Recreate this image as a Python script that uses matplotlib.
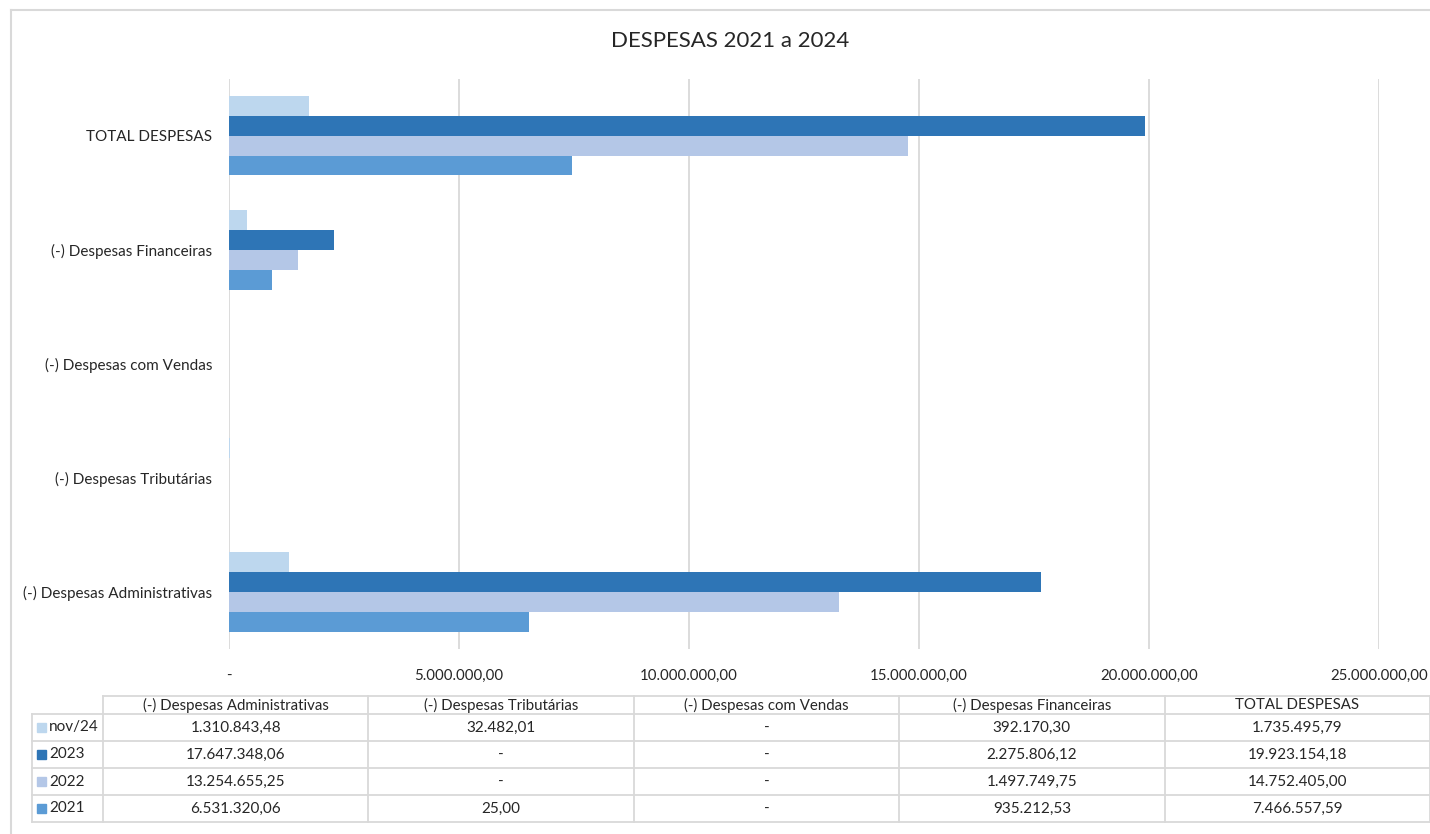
import numpy as np
import matplotlib
matplotlib.use('Agg')
import matplotlib.pyplot as plt
from matplotlib.patches import Rectangle

plt.rcParams['font.family'] = ['Lato', 'DejaVu Sans']

categories = ['(-) Despesas Administrativas', '(-) Despesas Tributárias',
              '(-) Despesas com Vendas', '(-) Despesas Financeiras', 'TOTAL DESPESAS']
series = ['nov/24', '2023', '2022', '2021']
nov24 = [1310843.48, 32482.01, 0, 392170.30, 1735495.79]
y2023 = [17647348.06, 0, 0, 2275806.12, 19923154.18]
y2022 = [13254655.25, 0, 0, 1497749.75, 14752405.00]
y2021 = [6531320.06, 25.00, 0, 935212.53, 7466557.59]
values = [nov24, y2023, y2022, y2021]
colors = ['#BDD7EE', '#2E75B6', '#B4C7E7', '#5B9BD5']
xticks = [0, 5e6, 10e6, 15e6, 20e6, 25e6]

W, H = 1430, 834
grid_c = '#D9D9D9'
txt_c = '#262626'


def fmt(v):
    if v == 0:
        return '-'
    s = f"{v:,.2f}"
    return s.replace(',', '#').replace('.', ',').replace('#', '.')


fig = plt.figure(figsize=(W / 100, H / 100), dpi=100)

# main bar axes, placed in pixel terms
x0, x1 = 229, 1379
ytop, ybot = 78.5, 649
ax = fig.add_axes([x0 / W, 1 - ybot / H, (x1 - x0) / W, (ybot - ytop) / H])

ypos = np.arange(len(categories))
h = 0.175
offsets = [1.5, 0.5, -0.5, -1.5]
for vals, col, off, name in zip(values, colors, offsets, series):
    ax.barh(ypos + off * h, vals, height=h, color=col, label=name, zorder=3)

ax.set_xlim(0, 25e6)
ax.set_ylim(-0.5, len(categories) - 0.5)
ax.set_xticks(xticks)
ax.set_xticklabels([fmt(v) for v in xticks], fontsize=10.8, color=txt_c)
ax.set_yticks(ypos)
ax.set_yticklabels(categories, fontsize=11, color=txt_c)
ax.tick_params(axis='both', length=0)
ax.tick_params(axis='x', pad=14)
ax.tick_params(axis='y', pad=12)
ax.grid(axis='x', color=grid_c, linewidth=1.3, zorder=0)
for s in ax.spines.values():
    s.set_visible(False)

fig.text(730 / W, 1 - 41 / H, 'DESPESAS 2021 a 2024', ha='center', va='center',
         fontsize=16, color=txt_c)

# overlay axes in pixel coordinates for the data table and frame
tab = fig.add_axes([0, 0, 1, 1])
tab.set_xlim(0, W)
tab.set_ylim(H, 0)
tab.axis('off')

# outer chart frame
tab.plot([11, 11], [10, H], color=grid_c, lw=1.5)
tab.plot([11, W], [10, 10], color=grid_c, lw=1.5)

lab_l, data_l, data_r = 32, 103, W
col_w = (data_r - data_l) / len(categories)
hdr_t, hdr_b = 696, 714
row_h = 27
rows_b = hdr_b + row_h * len(series)

lk = dict(color=grid_c, lw=1.3)
tab.plot([data_l, data_r], [hdr_t, hdr_t], **lk)
for i in range(len(series) + 1):
    yy = hdr_b + i * row_h
    tab.plot([lab_l, data_r], [yy, yy], **lk)
tab.plot([lab_l, lab_l], [hdr_b, rows_b], **lk)
for j in range(len(categories) + 1):
    xx = data_l + j * col_w
    tab.plot([xx, xx], [hdr_t, rows_b], **lk)

for j, cat in enumerate(categories):
    tab.text(data_l + (j + 0.5) * col_w, (hdr_t + hdr_b) / 2, cat,
             ha='center', va='center', fontsize=10.8, color=txt_c)

for i, (name, vals, col) in enumerate(zip(series, values, colors)):
    yc = hdr_b + (i + 0.5) * row_h
    tab.add_patch(Rectangle((37, yc - 4.5), 9, 9, color=col))
    tab.text(49, yc, name, ha='left', va='center', fontsize=11, color=txt_c)
    for j, v in enumerate(vals):
        tab.text(data_l + (j + 0.5) * col_w, yc, fmt(v),
                 ha='center', va='center', fontsize=11, color=txt_c)

fig.savefig('out.png', dpi=100, facecolor='white')
